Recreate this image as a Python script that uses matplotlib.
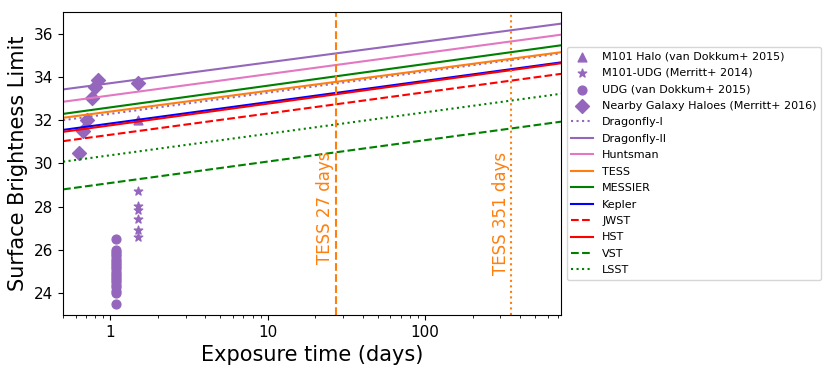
import numpy as np
import matplotlib
matplotlib.use("Agg")
import matplotlib.pyplot as plt
from matplotlib.ticker import FixedLocator, FixedFormatter, LogLocator, NullFormatter

# Exposure range of the instrument lines (days)
t_range = [0.5, 730]

# Instrument limits at start / end of range (mag/arcsec^2)
instruments = ["Dragonfly-I", "Dragonfly-II", "Huntsman", "TESS", "MESSIER",
               "Kepler", "JWST", "HST", "VST", "LSST"]
sb_start = [32.0, 33.42, 32.85, 32.11, 32.29, 31.55, 31.03, 31.46, 28.80, 30.08]
sb_end = [35.09, 36.46, 35.95, 35.14, 35.46, 34.67, 34.14, 34.63, 31.93, 33.22]
colors = ["tab:purple", "tab:purple", "tab:pink", "tab:orange", "green",
          "blue", "red", "red", "green", "green"]
styles = [":", "-", "-", "-", "-", "-", "--", "-", "--", ":"]

# Observed objects
halo_t = [1.5]
halo_sb = [32.0]

udg_m_t = [1.5, 1.5, 1.5, 1.5, 1.5, 1.5]
udg_m_sb = [28.72, 28.03, 27.83, 27.42, 26.92, 26.62]

udg_t = [1.09] * 22
udg_sb = [26.5, 26.0, 25.9, 25.8, 25.7, 25.6, 25.5, 25.4, 25.3, 25.2, 25.1,
          25.0, 24.9, 24.8, 24.7, 24.6, 24.5, 24.4, 24.3, 24.1, 24.0, 23.5]

haloes_t = [0.835, 0.795, 0.76, 0.71, 0.667, 0.63, 1.5]
haloes_sb = [33.85, 33.52, 33.03, 32.03, 31.52, 30.49, 33.72]

tess_t = [27, 351]

fig = plt.figure(figsize=(8.3, 3.74), dpi=100)
ax = fig.add_axes([0.076, 0.158, 0.600, 0.810])

purple = "tab:purple"
ax.scatter(halo_t, halo_sb, marker="^", s=40, color=purple,
           label="M101 Halo (van Dokkum+ 2015)")
ax.scatter(udg_m_t, udg_m_sb, marker="*", s=40, color=purple,
           label="M101-UDG (Merritt+ 2014)")
ax.scatter(udg_t, udg_sb, marker="o", s=40, color=purple,
           label="UDG (van Dokkum+ 2015)")
ax.scatter(haloes_t, haloes_sb, marker="D", s=50, color=purple,
           label="Nearby Galaxy Haloes (Merritt+ 2016)")

for name, a, b, c, ls in zip(instruments, sb_start, sb_end, colors, styles):
    ax.plot(t_range, [a, b], color=c, linestyle=ls, lw=1.5, label=name)

ax.axvline(tess_t[0], color="tab:orange", linestyle="--", lw=1.5)
ax.axvline(tess_t[1], color="tab:orange", linestyle=":", lw=1.5)
ax.text(tess_t[0] * 0.98, 30.55, "TESS 27 days", rotation=90, color="tab:orange",
        ha="right", va="top", fontsize=12)
ax.text(tess_t[1] * 0.98, 30.55, "TESS 351 days", rotation=90, color="tab:orange",
        ha="right", va="top", fontsize=12)

ax.set_xscale("log")
ax.set_xlim(t_range)
ax.set_ylim(23, 37)
ax.set_yticks([24, 26, 28, 30, 32, 34, 36])
ax.xaxis.set_major_locator(FixedLocator([1, 10, 100]))
ax.xaxis.set_major_formatter(FixedFormatter(["1", "10", "100"]))
ax.xaxis.set_minor_locator(LogLocator(base=10, subs=np.arange(2, 10)))
ax.xaxis.set_minor_formatter(NullFormatter())
ax.tick_params(labelsize=11)
ax.set_xlabel("Exposure time (days)", fontsize=15)
ax.set_ylabel("Surface Brightness Limit", fontsize=15)

ax.legend(loc="center left", bbox_to_anchor=(1.0, 0.5), fontsize=8,
          labelspacing=0.58)

fig.savefig("out.png", dpi=100)
